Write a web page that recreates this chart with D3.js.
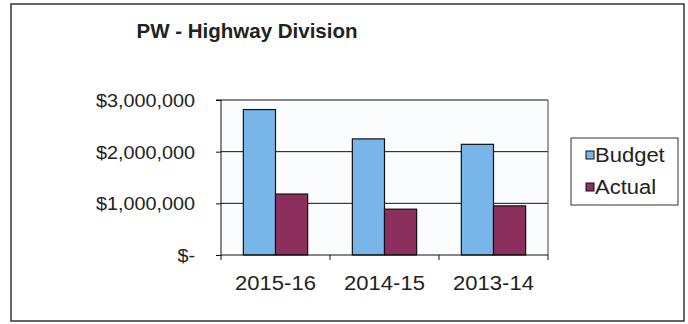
<!DOCTYPE html>
<html><head><meta charset="utf-8">
<script src="https://cdn.jsdelivr.net/npm/d3@7"></script>
<style>body{margin:0;background:#fff}text{font-family:"Liberation Sans",Arial,sans-serif;fill:#222}</style>
</head><body>
<svg id="c" width="688" height="324"></svg>
<script>
const categories = ["2015-16", "2014-15", "2013-14"];
const seriesNames = ["Budget", "Actual"];
const budget = [2815000, 2247000, 2142000];
const actual = [1180000, 887000, 951000];
const yTicks = [0, 1000000, 2000000, 3000000];
const yTickLabels = ["$-", "$1,000,000", "$2,000,000", "$3,000,000"];
const colors = ["#78b6ea", "#8c2f5e"];
const title = "PW - Highway Division";

const svg = d3.select("#c");
const stretch = function(sel, k){ k = k||1.1; sel.each(function(){ const w=this.getComputedTextLength(); d3.select(this).attr("textLength", w*k).attr("lengthAdjust","spacingAndGlyphs"); }); };

// outer frame
svg.append("rect").attr("x",11).attr("y",4).attr("width",673).attr("height",317)
  .attr("fill","#fff").attr("stroke","#333").attr("stroke-width",1.5);

const L=221, R=548, T=100, B=255;
const x0 = d3.scaleBand().domain(categories).range([L,R]).paddingInner(0.41).paddingOuter(0.205);
const x1 = d3.scaleBand().domain(seriesNames).range([0, x0.bandwidth()]);
const y = d3.scaleLinear().domain([0,3000000]).range([B,T]);

// plot background
svg.append("rect").attr("x",L).attr("y",T).attr("width",R-L).attr("height",B-T).attr("fill","#fbfcfe");

// gridlines
svg.append("g").selectAll("line").data(yTicks.slice(1)).join("line")
  .attr("x1",L).attr("x2",R).attr("y1",d=>y(d)).attr("y2",d=>y(d))
  .attr("stroke","#111").attr("stroke-width",1);
// right border
svg.append("line").attr("x1",R).attr("x2",R).attr("y1",T).attr("y2",B).attr("stroke","#444");

// bars
const data = categories.map((c,i)=>({c, vals:[budget[i], actual[i]]}));
const g = svg.append("g").selectAll("g").data(data).join("g")
  .attr("transform", d=>`translate(${x0(d.c)},0)`);
g.selectAll("rect").data(d=>d.vals.map((v,j)=>({s:seriesNames[j], v, j}))).join("rect")
  .attr("x", d=>x1(d.s)).attr("width", x1.bandwidth())
  .attr("y", d=>y(d.v)).attr("height", d=>B-y(d.v))
  .attr("fill", d=>colors[d.j]).attr("stroke","#111").attr("stroke-width",1.2);

// y axis
const yAxis = d3.axisLeft(y).tickValues(yTicks).tickSize(5).tickPadding(21)
  .tickFormat((d,i)=>yTickLabels[i]);
const ya = svg.append("g").attr("transform",`translate(${L},0)`).call(yAxis);
ya.select(".domain").attr("stroke","#111").attr("d",`M-5,${T}H0V${B}`);
ya.selectAll(".tick line").attr("stroke","#111");
ya.selectAll(".tick text").attr("font-size",18).attr("fill","#222").attr("dy","0.36em")
  .style("font-family","Liberation Sans, Arial, sans-serif").call(stretch);

// x axis
const xa = svg.append("g").attr("transform",`translate(0,${B})`);
xa.append("line").attr("x1",L).attr("x2",R).attr("y1",0).attr("y2",0).attr("stroke","#111");
xa.selectAll(".tk").data(d3.range(categories.length+1)).join("line")
  .attr("x1",i=>L+(R-L)/categories.length*i).attr("x2",i=>L+(R-L)/categories.length*i)
  .attr("y1",0).attr("y2",5).attr("stroke","#111");
xa.selectAll(".lbl").data(categories).join("text")
  .attr("x",c=>x0(c)+x0.bandwidth()/2).attr("y",35).attr("text-anchor","middle")
  .attr("font-size",20).text(d=>d).call(stretch);

// title
svg.append("text").attr("x",247).attr("y",38).attr("text-anchor","middle")
  .attr("font-size",20.5).attr("font-weight","bold").text(title);

// legend
const lg = svg.append("g");
lg.append("rect").attr("x",571).attr("y",138).attr("width",107).attr("height",67)
  .attr("fill","#fff").attr("stroke","#333").attr("stroke-width",1);
const items = lg.selectAll("g").data(seriesNames).join("g")
  .attr("transform",(d,i)=>`translate(588,${162+i*32})`);
items.append("rect").attr("x",-2).attr("y",-11).attr("width",8).attr("height",8)
  .attr("fill",(d,i)=>colors[i]).attr("stroke","#111").attr("stroke-width",1);
items.append("text").attr("x",7).attr("y",0).attr("font-size",20).text(d=>d).call(stretch);
</script>
</body></html>
